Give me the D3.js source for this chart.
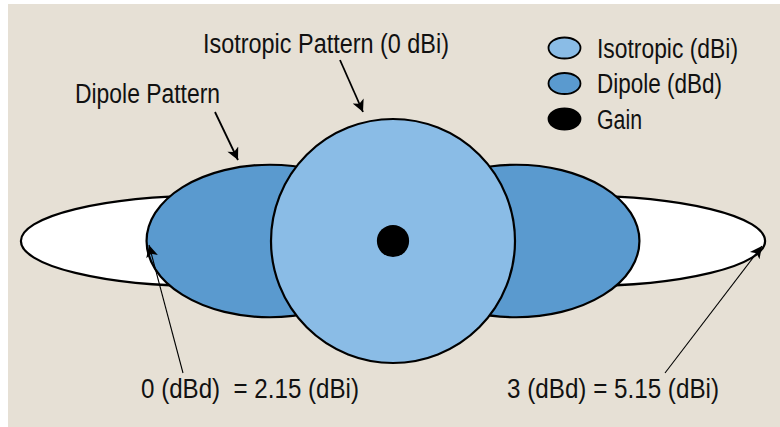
<!DOCTYPE html>
<html>
<head>
<meta charset="utf-8">
<script src="https://cdn.jsdelivr.net/npm/d3@7"></script>
<style>
  html, body { margin: 0; padding: 0; background: #ffffff; }
  svg { display: block; }
  text { font-family: "Liberation Sans", Arial, sans-serif; fill: #111; }
</style>
</head>
<body>
<svg id="chart" width="780" height="427"></svg>
<script>
// ---- data (pattern sizes in units of the isotropic radius) ----
// each directional pattern = two lobes reaching `lobeReach` from the centre
const lobeNames   = ["3 dBd pattern", "Dipole (dBd)"];
const lobeReach   = [3.05, 2.02];
const lobeHeight  = [0.37, 0.625];
const lobeFill    = ["#ffffff", "#5a9acf"];
const isoRadius   = 1.0;
const isoFill     = "#8abce6";
const gainDot     = 0.132;

const legendLabels = ["Isotropic (dBi)", "Dipole (dBd)", "Gain"];
const legendFills  = ["#8abce6", "#5a9acf", "#000000"];
const legendWidths = [141, 125, 45];

const annotationText = ["Isotropic Pattern (0 dBi)", "Dipole Pattern",
                        "0 (dBd)\u00a0\u00a0= 2.15 (dBi)", "3 (dBd) = 5.15 (dBi)"];
const annotationWidth = [246, 145, 218, 212];

// ---- layout ----
const W = 780, H = 427;
const cx = 393, cy = 241;
const svg = d3.select("#chart");

// scale: pattern units -> pixels
const r = d3.scaleLinear().domain([0, 1]).range([0, 122]);

// background
svg.append("rect").attr("x", 8).attr("y", 4).attr("width", W - 8).attr("height", H - 4)
  .attr("fill", "#e6e0d5");

const defs = svg.append("defs");
defs.append("marker").attr("id", "head").attr("viewBox", "0 0 10 10")
  .attr("refX", 10).attr("refY", 5).attr("markerUnits", "userSpaceOnUse")
  .attr("markerWidth", 16).attr("markerHeight", 12).attr("orient", "auto")
  .append("path").attr("d", "M0,0 L10,5 L0,10 L2.5,5 Z").attr("fill", "#000");

// lobes (left & right for each pattern)
const lobes = [];
lobeNames.forEach((n, i) => { [-1, 1].forEach(s => lobes.push({ i, s })); });
const g = svg.append("g");
g.selectAll("ellipse.lobe").data(lobes).join("ellipse")
  .attr("class", "lobe")
  .attr("cx", d => cx + d.s * r(lobeReach[d.i]) / 2).attr("cy", cy)
  .attr("rx", d => r(lobeReach[d.i]) / 2)
  .attr("ry", d => r(lobeHeight[d.i]))
  .attr("fill", d => lobeFill[d.i])
  .attr("stroke", "#000").attr("stroke-width", 2.2);

// isotropic circle
g.append("circle").attr("cx", cx).attr("cy", cy).attr("r", r(isoRadius))
  .attr("fill", isoFill).attr("stroke", "#000").attr("stroke-width", 2.2);

// gain dot
g.append("circle").attr("cx", cx).attr("cy", cy).attr("r", r(gainDot)).attr("fill", "#000");

// legend
const lg = svg.append("g");
legendLabels.forEach((lab, i) => {
  const y = 48 + i * 35.5;
  lg.append("ellipse").attr("cx", 564.5).attr("cy", y).attr("rx", 16).attr("ry", 10.5)
    .attr("fill", legendFills[i]).attr("stroke", "#000").attr("stroke-width", 1.8);
  lg.append("text").attr("x", 597).attr("y", y + 9.5).attr("font-size", 27)
    .attr("textLength", legendWidths[i]).attr("lengthAdjust", "spacingAndGlyphs")
    .text(lab);
});

// annotation labels
const labelPos = [[203, 53], [75, 103], [141, 398], [507, 398]];
annotationText.forEach((t, i) => {
  svg.append("text").attr("x", labelPos[i][0]).attr("y", labelPos[i][1])
    .attr("font-size", 27)
    .attr("textLength", annotationWidth[i]).attr("lengthAdjust", "spacingAndGlyphs")
    .text(t);
});

// arrows: from label toward pattern edge
const arrowLines = [
  { from: [340, 60],  to: [363, 112], w: 1.8 },
  { from: [215, 112], to: [238, 160], w: 1.8 },
  { from: [183, 373], to: [149, 245], w: 1.1 },
  { from: [665, 373], to: [762, 246], w: 1.1 }
];
svg.selectAll("line.arrow").data(arrowLines).join("line")
  .attr("class", "arrow")
  .attr("x1", d => d.from[0]).attr("y1", d => d.from[1])
  .attr("x2", d => d.to[0]).attr("y2", d => d.to[1])
  .attr("stroke", "#000").attr("stroke-width", d => d.w)
  .attr("marker-end", "url(#head)");
</script>
</body>
</html>
